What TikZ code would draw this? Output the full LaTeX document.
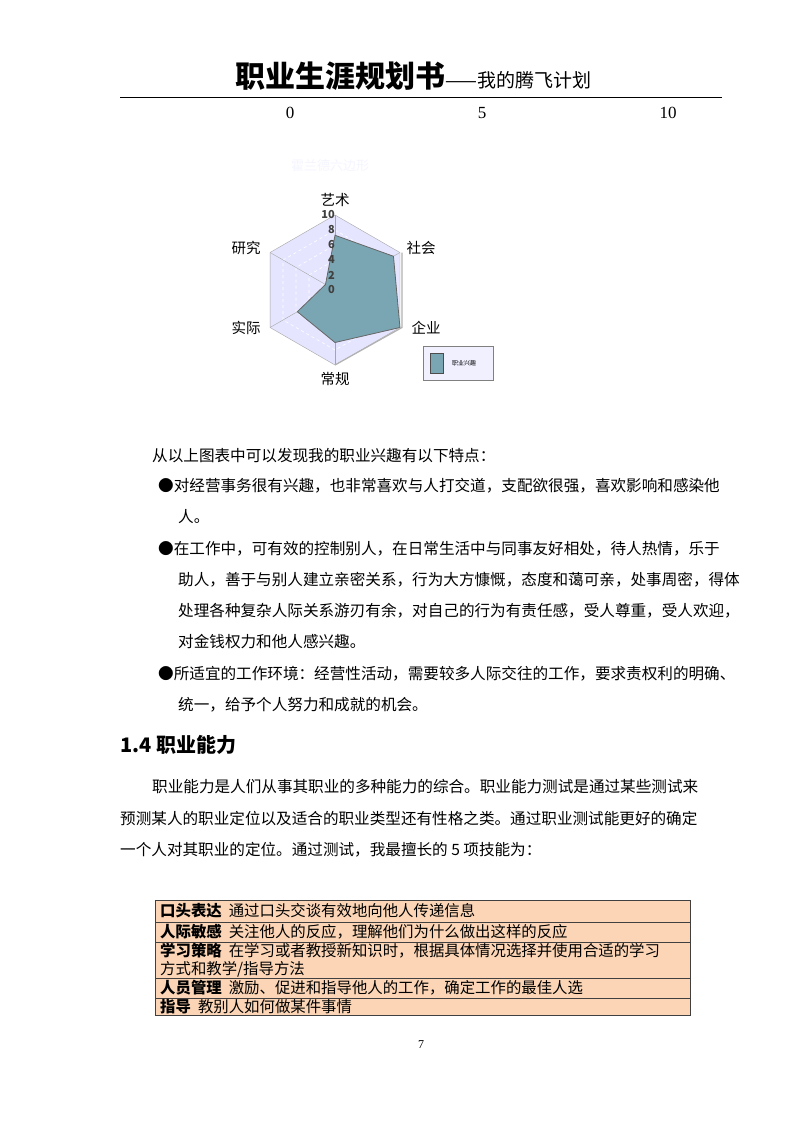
\documentclass[tikz,border=0pt]{standalone}
\usepackage{fontspec}
\setmainfont{Noto Sans CJK SC}
\newfontfamily\ser{Liberation Serif}
\newcommand\hexpt[2]{({\cx+#1*cos(#2)},{\cy-#1*sin(#2)})}
\newcommand\hexpath[1]{\hexpt{#1}{90} -- \hexpt{#1}{30} -- \hexpt{#1}{-30} -- \hexpt{#1}{-90} -- \hexpt{#1}{-150} -- \hexpt{#1}{150} -- cycle}
\newcommand\hd[1]{\textbf{#1}\hspace{7pt}}
\begin{document}
\begin{tikzpicture}[x=1pt,y=-1pt,
  body/.style={anchor=west,inner sep=0pt,font=\fontsize{15.6}{16}\selectfont},
  cell/.style={anchor=west,inner sep=0pt,font=\fontsize{15.4}{15}\selectfont},
  lab/.style={inner sep=0pt,font=\fontsize{14.5}{15}\selectfont},
  tick/.style={inner sep=0pt,font=\bfseries\fontsize{11}{11}\selectfont,text=black!75,anchor=east}]
\useasboundingbox (0,0) rectangle (800,1132);
\fill[white] (0,0) rectangle (800,1132);
% header
\node[inner sep=0pt,anchor=base west] (t1) at (235,88) {\bfseries\fontsize{30}{30}\selectfont 职业生涯规划书};
\node[inner sep=0pt,anchor=base west] (t2) at (t1.base east) {\fontsize{19}{19}\selectfont ——我的腾飞计划};
\draw[line width=0.8pt] (120,97) -- (722,97);
\node[inner sep=0pt,font=\ser\fontsize{17}{17}\selectfont] (a0) at (290,113) {0};
\node[inner sep=0pt,font=\ser\fontsize{17}{17}\selectfont] (a5) at (482,113) {5};
\node[inner sep=0pt,font=\ser\fontsize{17}{17}\selectfont] (a10) at (668,113) {10};
\node[inner sep=0pt,font=\fontsize{13}{13}\selectfont,text=blue!4] (ct) at (330,166) {霍兰德六边形};
% radar
\def\cx{335}\def\cy{290}
\fill[blue!10!white,draw=gray!70] \hexpath{75};
\foreach \r in {15,30,45,60}{\draw[white,dashed,line width=0.6pt] \hexpath{\r};}
\foreach \a in {90,30,-30,-90,-150,150}{\draw[gray!70] (\cx,\cy) -- \hexpt{75}{\a};}
\fill[fill={rgb,255:red,122;green,165;blue,178},draw=gray!80!black,line width=0.8pt]
 \hexpt{54.75}{90} -- \hexpt{67.5}{30} -- \hexpt{75}{-30} -- \hexpt{52.5}{-90} -- \hexpt{43.5}{-150} -- \hexpt{11}{150} -- cycle;
\draw[gray!60,line width=1.2pt] ({\cx+67},{\cy-37.5}) -- ({\cx+67},{\cy+37.5}) -- (\cx,{\cy+75});
\foreach \v in {0,2,4,6,8,10}{\node[tick] (tk\v) at (\cx,{\cy-7.5*\v}) {\v};}
\node[lab] (l1) at (335,200) {艺术};
\node[lab] (l2) at (421,248) {社会};
\node[lab] (l3) at (426,328) {企业};
\node[lab] (l4) at (335,379) {常规};
\node[lab] (l5) at (246,328) {实际};
\node[lab] (l6) at (246,248) {研究};
\draw[gray,fill=blue!6!white] (423,346) rectangle (493,380);
\draw[gray!60!black,fill={rgb,255:red,122;green,165;blue,178}] (430,353) rectangle (443,373);
\node[inner sep=0pt,font=\fontsize{6}{6}\selectfont] (lg) at (464,363) {职业兴趣};
% body text
\node[body] (p1) at (152,456) {从以上图表中可以发现我的职业兴趣有以下特点：};
\node[body] (p2) at (158,486) {●对经营事务很有兴趣，也非常喜欢与人打交道，支配欲很强，喜欢影响和感染他};
\node[body] (p3) at (178,517) {人。};
\node[body] (p4) at (158,549) {●在工作中，可有效的控制别人，在日常生活中与同事友好相处，待人热情，乐于};
\node[body] (p5) at (178,580) {助人，善于与别人建立亲密关系，行为大方慷慨，态度和蔼可亲，处事周密，得体};
\node[body] (p6) at (178,611) {处理各种复杂人际关系游刃有余，对自己的行为有责任感，受人尊重，受人欢迎，};
\node[body] (p7) at (178,642) {对金钱权力和他人感兴趣。};
\node[body] (p8) at (158,674) {●所适宜的工作环境：经营性活动，需要较多人际交往的工作，要求责权利的明确、};
\node[body] (p9) at (178,705) {统一，给予个人努力和成就的机会。};
\node[anchor=west,inner sep=0pt,font=\bfseries\fontsize{20}{20}\selectfont] (h) at (120,745) {1.4 职业能力};
\node[body] (q1) at (152,787) {职业能力是人们从事其职业的多种能力的综合。职业能力测试是通过某些测试来};
\node[body] (q2) at (120,819) {预测某人的职业定位以及适合的职业类型还有性格之类。通过职业测试能更好的确定};
\node[body] (q3) at (120,850) {一个人对其职业的定位。通过测试，我最擅长的 5 项技能为：};
% table
\fill[fill={rgb,255:red,251;green,213;blue,181}] (155,900) rectangle (690,1015);
\draw[gray!50!black,line width=0.8pt] (155,900) rectangle (690,1015);
\foreach \y in {922,942,978,998}{\draw[gray!50!black,line width=0.8pt] (155,\y) -- (690,\y);}
\node[cell] (r1) at (160,911) {\hd{口头表达}通过口头交谈有效地向他人传递信息};
\node[cell] (r2) at (160,932) {\hd{人际敏感}关注他人的反应，理解他们为什么做出这样的反应};
\node[cell] (r3) at (160,951) {\hd{学习策略}在学习或者教授新知识时，根据具体情况选择并使用合适的学习};
\node[cell] (r3b) at (160,969) {方式和教学/指导方法};
\node[cell] (r4) at (160,988) {\hd{人员管理}激励、促进和指导他人的工作，确定工作的最佳人选};
\node[cell] (r5) at (160,1007) {\hd{指导}教别人如何做某件事情};
\node[inner sep=0pt,font=\ser\fontsize{12}{12}\selectfont] (pg) at (421,1045) {7};
\end{tikzpicture}
\end{document}
